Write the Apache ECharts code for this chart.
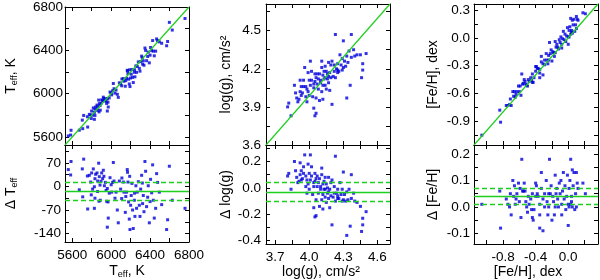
<!DOCTYPE html>
<html>
<head>
<meta charset="utf-8">
<script src="https://cdn.jsdelivr.net/npm/echarts@6/dist/echarts.min.js"></script>
<style>html,body{margin:0;padding:0;background:#fff}#c{width:600px;height:280px}</style>
</head>
<body>
<div id="c"></div>
<script>
// ---- Teff panel data (reference Teff, residual, our Teff) ----
const teffRef = [5559,5587,5583,5672,5703,5717,5707,5755,5758,5775,5789,5799,5809,5816,5827,5833,5840,5833,5827,5854,5861,5871,5878,5885,5875,5888,5902,5912,5919,5930,5940,5947,5953,5960,5967,5970,5960,5988,6005,6015,6022,6029,6039,6050,6063,6073,6084,6097,6108,6125,6131,6145,6158,6165,6168,6172,6179,6186,6193,6200,6206,6213,6220,6227,6238,6244,6254,6261,6268,6279,6289,6296,6303,6313,6323,6330,6337,6347,6354,6364,6375,6381,6392,6405,6416,6426,6433,6443,6457,6467,6477,6495,6519,6598,6580,6570,6628,6759,5895,5925,5980,6000,6110,6150,6190,6240,6320,6400,5795,5860];
const teffDelta = [50,74,34,-10,52,81,-31,31,-67,33,13,40,-8,52,-1,23,36,-35,-65,40,16,69,29,4,-44,-41,40,23,48,2,12,-12,-44,-6,-46,-94,-121,26,-17,12,71,16,-35,-17,-70,-108,16,-8,-36,13,-17,-77,-17,50,42,13,-46,-97,-128,-56,-27,9,-70,-125,-41,-89,2,-65,-17,14,-56,-89,-8,33,-51,-27,-75,74,45,-60,-32,2,-108,21,-19,64,-41,-94,-65,38,12,-17,-54,60,-99,-128,-41,-65,15,30,-20,5,25,-30,30,-20,10,-45,-25,-15];
const teffSpec = [5609,5661,5617,5662,5755,5798,5676,5786,5691,5808,5802,5839,5801,5868,5826,5856,5876,5798,5762,5894,5877,5940,5907,5889,5831,5847,5942,5935,5967,5932,5952,5935,5909,5954,5921,5876,5839,6014,5988,6027,6093,6045,6004,6033,5993,5965,6100,6089,6072,6138,6114,6068,6141,6215,6210,6185,6133,6089,6065,6144,6179,6222,6150,6102,6197,6155,6256,6196,6251,6293,6233,6207,6295,6346,6272,6303,6262,6421,6399,6304,6343,6383,6284,6426,6397,6490,6392,6349,6392,6505,6489,6478,6465,6658,6481,6442,6587,6694,5910,5955,5960,6005,6135,6120,6220,6220,6330,6355,5770,5845];
const teffLines = [-14.5, 13.5, -42.5]; // mean, mean+sd, mean-sd

// ---- log(g) panel data ----
const loggRef = [3.81,3.82,3.84,3.87,3.89,3.90,3.92,3.92,3.93,3.93,3.95,3.95,3.96,3.97,3.98,3.98,3.99,4.00,4.01,4.01,4.02,4.03,4.04,4.04,4.05,4.05,4.06,4.06,4.06,4.07,4.08,4.09,4.09,4.10,4.11,4.11,4.12,4.12,4.13,4.14,4.15,4.15,4.16,4.17,4.18,4.18,4.19,4.20,4.20,4.21,4.22,4.23,4.23,4.24,4.25,4.25,4.26,4.27,4.28,4.29,4.29,4.30,4.30,4.31,4.32,4.33,4.33,4.34,4.35,4.36,4.37,4.37,4.39,4.40,4.42,4.45,4.46,4.47,4.47,4.50,4.04,4.05,4.07,4.08,4.10,4.12,4.13,4.14,4.16,4.17,4.19,4.22,4.25,3.94,3.97,4.00,3.91,3.88,3.99,4.02,4.11,4.14,4.17];
const loggDelta = [0.09,0.11,-0.01,0.20,0.08,0.04,0.19,0.10,0.13,0.06,0.11,0.16,0.25,0.09,-0.04,0.06,0.03,0.11,0.06,0.25,0.09,-0.05,0.01,-0.15,-0.22,0.11,0.07,-0.09,-0.21,0.09,-0.04,-0.14,0.07,0.01,-0.09,0.10,-0.16,-0.05,0.05,-0.01,-0.11,0.03,-0.04,-0.08,-0.15,-0.01,-0.06,0.06,-0.28,-0.07,0.01,0.24,-0.10,-0.04,-0.08,-0.01,-0.08,0.04,-0.05,-0.10,-0.01,-0.09,0.12,-0.05,-0.10,-0.03,-0.36,-0.09,-0.01,-0.29,-0.08,0.10,-0.04,-0.10,-0.11,-0.14,-0.33,-0.23,-0.28,-0.18,0.04,0.05,0.01,0.04,-0.01,0.03,-0.01,-0.07,0.00,-0.03,0.04,-0.04,-0.06,0.07,0.01,-0.01,0.05,0.13,0.18,0.16,0.15,0.08,0.08];
const loggSpec = [3.90,3.93,3.83,4.07,3.97,3.94,4.11,4.02,4.06,3.99,4.06,4.11,4.21,4.06,3.94,4.04,4.02,4.11,4.07,4.26,4.11,3.98,4.05,3.89,3.83,4.16,4.13,3.97,3.85,4.16,4.04,3.95,4.16,4.11,4.02,4.21,3.96,4.07,4.18,4.13,4.04,4.18,4.12,4.09,4.03,4.17,4.13,4.26,3.92,4.14,4.23,4.47,4.13,4.20,4.17,4.24,4.18,4.31,4.23,4.19,4.28,4.21,4.42,4.26,4.22,4.30,3.97,4.25,4.34,4.07,4.29,4.47,4.35,4.30,4.31,4.31,4.13,4.24,4.19,4.32,4.08,4.10,4.08,4.12,4.09,4.15,4.12,4.07,4.16,4.14,4.23,4.18,4.19,4.01,3.98,3.99,3.96,4.01,4.17,4.18,4.26,4.22,4.25];
const loggLines = [-0.025, 0.045, -0.095];

// ---- [Fe/H] panel data ----
const fehRef = [-1.06,-0.83,-0.84,-0.76,-0.74,-0.72,-0.70,-0.68,-0.67,-0.66,-0.65,-0.63,-0.61,-0.60,-0.58,-0.57,-0.56,-0.55,-0.54,-0.53,-0.52,-0.50,-0.49,-0.48,-0.46,-0.45,-0.44,-0.43,-0.42,-0.40,-0.40,-0.39,-0.38,-0.37,-0.35,-0.35,-0.33,-0.33,-0.31,-0.31,-0.29,-0.29,-0.27,-0.26,-0.25,-0.24,-0.23,-0.22,-0.21,-0.20,-0.19,-0.18,-0.17,-0.16,-0.15,-0.14,-0.13,-0.12,-0.11,-0.10,-0.09,-0.08,-0.07,-0.06,-0.05,-0.04,-0.03,-0.02,-0.01,0.00,0.01,0.01,0.02,0.03,0.03,0.04,0.05,0.05,0.06,0.07,0.08,0.09,0.10,0.10,0.11,0.12,0.18,0.21,-0.71,-0.64,-0.59,-0.51,-0.44,-0.35,-0.24,-0.16,-0.08,0.00,0.04];
const fehDelta = [0.01,-0.08,0.06,0.03,0.01,0.00,-0.03,0.10,0.04,0.08,0.01,0.05,0.09,0.02,-0.04,0.18,0.06,0.06,0.09,0.06,0.02,-0.02,0.04,0.01,0.03,-0.01,-0.04,-0.05,-0.01,0.04,0.09,0.08,0.05,0.04,-0.08,0.01,0.13,0.07,-0.09,0.03,0.05,0.00,0.10,0.02,-0.03,0.05,0.18,0.05,0.08,-0.05,0.04,0.02,-0.03,0.12,0.05,0.07,0.03,0.00,0.09,0.05,0.10,0.01,0.06,0.13,0.03,0.08,-0.01,0.04,0.12,-0.07,0.00,0.07,0.10,0.01,0.18,0.04,0.14,0.00,0.08,0.13,-0.01,0.05,0.13,0.00,0.09,0.07,0.09,0.05,0.05,0.03,0.07,0.00,0.05,-0.03,0.00,0.00,-0.03,0.01,0.02];
const fehSpec = [-1.05,-0.91,-0.78,-0.73,-0.73,-0.72,-0.73,-0.58,-0.63,-0.58,-0.64,-0.58,-0.52,-0.58,-0.62,-0.39,-0.50,-0.49,-0.45,-0.47,-0.50,-0.52,-0.45,-0.47,-0.43,-0.46,-0.48,-0.48,-0.43,-0.36,-0.31,-0.31,-0.33,-0.33,-0.43,-0.34,-0.20,-0.26,-0.40,-0.28,-0.24,-0.29,-0.17,-0.24,-0.28,-0.19,-0.05,-0.17,-0.13,-0.25,-0.15,-0.16,-0.20,-0.04,-0.10,-0.07,-0.10,-0.12,-0.02,-0.05,0.01,-0.07,-0.01,0.07,-0.02,0.04,-0.04,0.02,0.11,-0.07,0.01,0.08,0.12,0.04,0.21,0.08,0.19,0.05,0.14,0.20,0.07,0.14,0.23,0.10,0.20,0.19,0.27,0.26,-0.66,-0.61,-0.52,-0.51,-0.39,-0.38,-0.24,-0.16,-0.11,0.01,0.06];
const fehLines = [0.039, 0.072, 0.006];

// ---- tick labels ----
const teffLabels = [5600, 6000, 6400, 6800];
const teffTicks = [5600, 5800, 6000, 6200, 6400, 6600, 6800];
const dTeffLabels = [-140, -70, 0, 70];
const dTeffTicks = [-140, -105, -70, -35, 0, 35, 70, 105];
const loggXLabels = [3.7, 4.0, 4.3, 4.6];
const loggXTicks = [3.7, 3.85, 4.0, 4.15, 4.3, 4.45, 4.6];
const loggYLabels = [3.6, 3.9, 4.2, 4.5];
const loggYTicks = [3.6, 3.75, 3.9, 4.05, 4.2, 4.35, 4.5, 4.65];
const dLoggLabels = [-0.4, -0.2, 0.0, 0.2];
const dLoggTicks = [-0.4, -0.3, -0.2, -0.1, 0.0, 0.1, 0.2, 0.3];
const fehXLabels = [-0.8, -0.4, 0.0];
const fehXTicks = [-1.0, -0.8, -0.6, -0.4, -0.2, 0.0, 0.2];
const fehYLabels = [-0.9, -0.6, -0.3, 0.0, 0.3];
const fehYTicks = [-1.05, -0.9, -0.75, -0.6, -0.45, -0.3, -0.15, 0.0, 0.15, 0.3];
const dFehLabels = [-0.1, 0.0, 0.1, 0.2];
const dFehTicks = [-0.1, -0.05, 0.0, 0.05, 0.1, 0.15, 0.2];

const FONT = '"Liberation Sans", Arial, Helvetica, sans-serif';
const BLUE = '#0000dd';
const GREEN = '#1ecf1e';
const zip = (a, b) => a.slice(0, Math.min(a.length, b.length)).map((v, i) => [v, b[i]]);
const f0 = v => String(Math.round(v));
const f1 = v => v.toFixed(1);

const rich = { sub: { fontSize: 9, fontFamily: FONT, color: '#000', padding: [7, 0, 0, 0] } };

const cols = [65, 266, 474];
const W = 124;
const rows = [{ top: 4, height: 141 }, { top: 145, height: 100 }];

const panels = [
  { col: 0, row: 0, xr: [5525, 6800], yr: [5525, 6800], xl: teffLabels, xt: teffTicks, yl: teffLabels, yt: teffTicks, xf: f0, yf: f0, showX: false, yName: 'T{sub|eff}, K', yGap: 46, yMargin: 2, data: zip(teffRef, teffSpec), diag: true },
  { col: 1, row: 0, xr: [3.62, 4.71], yr: [3.6, 4.71], xl: loggXLabels, xt: loggXTicks, yl: loggYLabels, yt: loggYTicks, xf: f1, yf: f1, showX: false, yName: 'log(g), cm/s²', yGap: 33, yMargin: 5, data: zip(loggRef, loggSpec), diag: true },
  { col: 2, row: 0, xr: [-1.156, 0.365], yr: [-1.156, 0.365], xl: fehXLabels, xt: fehXTicks, yl: fehYLabels, yt: fehYTicks, xf: f1, yf: f1, showX: false, yName: '[Fe/H], dex', yGap: 34, yMargin: 4, data: zip(fehRef, fehSpec), diag: true },
  { col: 0, row: 1, xr: [5525, 6800], yr: [-165, 123], xl: teffLabels, xt: teffTicks, yl: dTeffLabels, yt: dTeffTicks, xf: f0, yf: f0, showX: true, xName: 'T{sub|eff}, K', xPad: 0, yName: 'Δ T{sub|eff}', yGap: 46, yMargin: 4, data: zip(teffRef, teffDelta), lines: teffLines },
  { col: 1, row: 1, xr: [3.62, 4.71], yr: [-0.425, 0.325], xl: loggXLabels, xt: loggXTicks, yl: dLoggLabels, yt: dLoggTicks, xf: f1, yf: f1, showX: true, xName: 'log(g), cm/s²', xPad: 14, yName: 'Δ log(g)', yGap: 33, yMargin: 5, data: zip(loggRef, loggDelta), lines: loggLines },
  { col: 2, row: 1, xr: [-1.156, 0.365], yr: [-0.14, 0.234], xl: fehXLabels, xt: fehXTicks, yl: dFehLabels, yt: dFehTicks, xf: f1, yf: f1, showX: true, xName: '[Fe/H], dex', xPad: 16, yName: 'Δ [Fe/H]', yGap: 34, yMargin: 4, data: zip(fehRef, fehDelta), lines: fehLines }
];

const grid = [], xAxis = [], yAxis = [], series = [];
const lineStyle = { color: '#000', width: 1 };
const labelStyle = { color: '#000', fontSize: 13.5, fontFamily: FONT };
const nameStyle = { color: '#000', fontSize: 14, fontFamily: FONT, rich };

panels.forEach((p, g) => {
  grid.push({ left: cols[p.col], top: rows[p.row].top, width: W, height: rows[p.row].height });
  const baseX = {
    type: 'value', gridIndex: g, min: p.xr[0], max: p.xr[1],
    axisLine: { show: true, onZero: false, lineStyle },
    axisTick: { show: true, inside: true, length: 4, customValues: p.xt, lineStyle },
    splitLine: { show: false }
  };
  xAxis.push(Object.assign({}, baseX, {
    position: 'bottom',
    axisLabel: { show: p.showX, customValues: p.xl, formatter: p.xf, margin: 6, ...labelStyle },
    name: p.xName || '', nameLocation: 'middle', nameGap: 21, nameTextStyle: { ...nameStyle, padding: [0, p.xPad || 0, 0, 0] }
  }));
  xAxis.push(Object.assign({}, baseX, { position: 'top', axisLabel: { show: false, customValues: p.xl } }));
  const baseY = {
    type: 'value', gridIndex: g, min: p.yr[0], max: p.yr[1],
    axisLine: { show: true, onZero: false, lineStyle },
    axisTick: { show: true, inside: true, length: 4, customValues: p.yt, lineStyle },
    splitLine: { show: false }
  };
  yAxis.push(Object.assign({}, baseY, {
    position: 'left',
    axisLabel: { show: true, customValues: p.yl, formatter: p.yf, margin: p.yMargin, ...labelStyle },
    name: p.yName, nameLocation: 'middle', nameGap: p.yGap, nameRotate: 90, nameTextStyle: nameStyle
  }));
  yAxis.push(Object.assign({}, baseY, { position: 'right', axisLabel: { show: false, customValues: p.yl } }));

  const s = {
    type: 'scatter', xAxisIndex: 2 * g, yAxisIndex: 2 * g, data: p.data,
    symbol: 'rect', symbolSize: 3, itemStyle: { color: BLUE }, z: 2, silent: true
  };
  if (p.lines) {
    s.markLine = {
      silent: true, symbol: 'none', label: { show: false }, animation: false, z: 3,
      data: [
        { yAxis: p.lines[0], lineStyle: { color: GREEN, width: 1.3, type: 'solid' } },
        { yAxis: p.lines[1], lineStyle: { color: GREEN, width: 1.3, type: [5, 3] } },
        { yAxis: p.lines[2], lineStyle: { color: GREEN, width: 1.3, type: [5, 3] } }
      ]
    };
  }
  series.push(s);
  if (p.diag) {
    series.push({
      type: 'line', xAxisIndex: 2 * g, yAxisIndex: 2 * g,
      data: [[p.xr[0], p.yr[0]], [p.xr[1], p.yr[1]]],
      showSymbol: false, symbol: 'none', lineStyle: { color: GREEN, width: 1.2 }, z: 3, silent: true
    });
  }
});

const chart = echarts.init(document.getElementById('c'), null, { renderer: 'canvas' });
chart.setOption({ animation: false, backgroundColor: '#fff', grid, xAxis, yAxis, series });
</script>
</body>
</html>
